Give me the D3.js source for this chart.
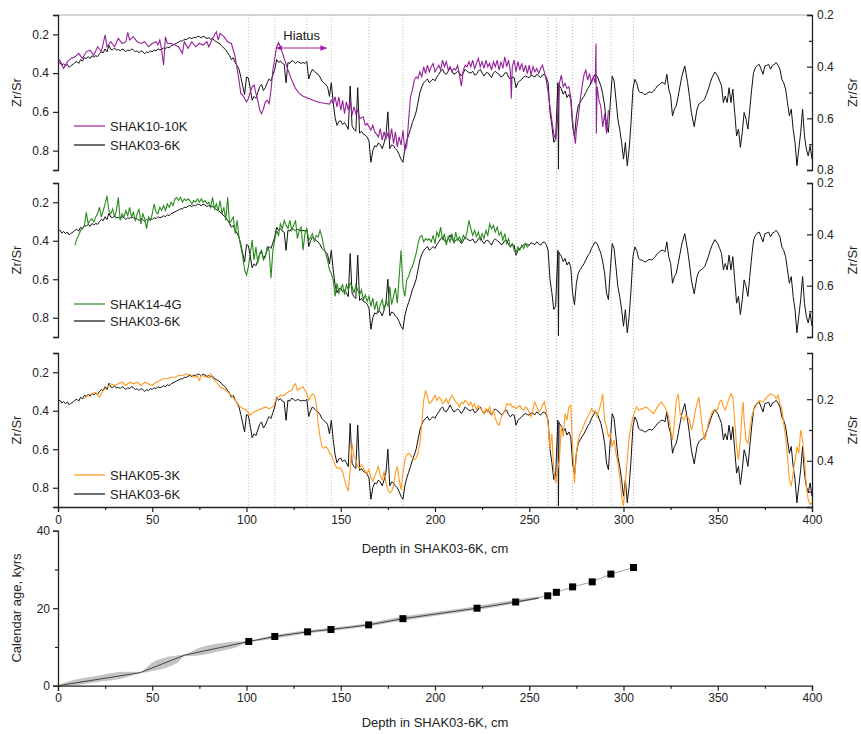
<!DOCTYPE html>
<html>
<head>
<meta charset="utf-8">
<script src="https://cdn.jsdelivr.net/npm/d3@7"></script>
<style>
body{margin:0;background:#fff;}
text{font-family:Arial,"Liberation Sans",sans-serif;fill:#222;}
</style>
</head>
<body>
<div id="chart"></div>
<script>
// reference core SHAK03-6K, [depth cm, Zr/Sr]
var shak03 = [[0,.351],[1,.345],[2,.36],[3,.352],[4,.363],[5,.355],[6,.37],[7,.36],[8,.355],[9,.345],[10,.34],[11,.35],[12,.33],[13,.338],[14,.32],[15,.325],[16,.315],[17,.325],[18,.31],[19,.318],[20,.31],[21,.315],[22,.30],[23,.29],[24,.295],[25,.275],[26,.29],[27,.257],[28,.277],[29,.28],[30,.27],[31,.282],[32,.278],[33,.285],[34,.275],[35,.28],[36,.29],[37,.28],[38,.285],[39,.275],[40,.28],[41,.29],[42,.285],[43,.295],[44,.285],[45,.29],[46,.30],[47,.29],[48,.295],[49,.285],[50,.29],[51,.28],[52,.285],[53,.275],[54,.28],[55,.277],[56,.27],[57,.275],[58,.265],[59,.27],[60,.26],[61,.255],[62,.25],[63,.245],[64,.24],[65,.234],[66,.235],[67,.225],[68,.228],[69,.22],[70,.217],[71,.222],[72,.215],[73,.218],[74,.21],[75,.212],[76,.218],[77,.21],[78,.215],[79,.222],[80,.217],[81,.225],[82,.22],[83,.232],[84,.238],[85,.243],[86,.25],[87,.262],[88,.27],[89,.28],[90,.295],[91,.31],[92,.33],[93,.32],[94,.346],[95,.36],[96,.38],[97,.42],[98,.466],[99,.51],[100,.42],[101,.425],[102,.48],[103,.54],[104,.52],[105,.53],[106,.50],[107,.47],[108,.458],[109,.49],[110,.475],[111,.45],[112,.43],[113,.44],[114,.41],[115,.38],[116,.33],[117,.345],[118,.337],[119,.35],[120,.355],[121,.45],[122,.345],[123,.35],[124,.335],[125,.34],[126,.35],[127,.34],[128,.345],[129,.35],[130,.345],[131,.35],[132,.34],[133,.43],[134,.40],[135,.38],[136,.39],[137,.40],[138,.406],[139,.42],[140,.44],[141,.45],[142,.458],[143,.47],[144,.52],[145,.45],[146,.55],[147,.63],[148,.67],[149,.65],[150,.646],[151,.665],[152,.655],[153,.67],[154,.69],[155,.466],[156,.672],[157,.69],[158,.70],[159,.475],[160,.71],[161,.70],[162,.715],[163,.72],[164,.73],[165,.75],[166,.86],[167,.80],[168,.775],[169,.78],[170,.76],[171,.77],[172,.79],[173,.76],[174,.72],[175,.60],[176,.79],[177,.77],[178,.775],[179,.79],[180,.80],[181,.82],[182,.845],[183,.86],[184,.79],[185,.75],[186,.72],[187,.69],[188,.655],[189,.63],[190,.60],[191,.55],[192,.50],[193,.47],[194,.45],[195,.44],[196,.43],[197,.45],[198,.44],[199,.43],[200,.44],[201,.42],[202,.406],[203,.39],[204,.38],[205,.40],[206,.406],[207,.39],[208,.37],[209,.39],[210,.406],[211,.40],[212,.39],[213,.40],[214,.415],[215,.40],[216,.38],[217,.39],[218,.397],[219,.40],[220,.39],[221,.41],[222,.406],[223,.39],[224,.38],[225,.40],[226,.415],[227,.40],[228,.397],[229,.41],[230,.423],[231,.40],[232,.39],[233,.40],[234,.406],[235,.42],[236,.415],[237,.40],[238,.397],[239,.42],[240,.432],[241,.42],[242,.423],[243,.475],[244,.449],[245,.44],[246,.432],[247,.42],[248,.415],[249,.42],[250,.423],[251,.41],[252,.415],[253,.42],[254,.406],[255,.415],[256,.423],[257,.41],[258,.406],[259,.42],[260,.449],[261,.60],[262,.67],[263,.757],[264,.741],[264.6,.59],[265.2,.449],[265.5,.895],[265.8,.46],[266,.466],[267,.48],[268,.509],[269,.492],[270,.526],[271,.51],[272,.535],[273,.672],[274,.732],[275,.621],[276,.569],[277,.55],[278,.535],[279,.52],[280,.50],[281,.48],[282,.466],[283,.44],[284,.423],[285,.406],[286,.415],[287,.44],[288,.466],[289,.51],[290,.569],[291,.672],[292,.706],[293,.552],[294,.415],[295,.44],[296,.535],[297,.638],[298,.689],[299,.758],[300,.844],[301,.758],[302,.878],[303,.792],[304,.655],[305,.483],[306,.432],[307,.45],[308,.492],[309,.50],[310,.50],[311,.51],[312,.509],[313,.50],[314,.497],[315,.50],[316,.492],[317,.48],[318,.466],[319,.46],[320,.449],[321,.45],[322,.458],[323,.406],[324,.483],[325,.518],[326,.621],[327,.586],[328,.569],[329,.52],[330,.466],[331,.415],[332.5,.363],[334,.449],[335,.52],[336,.603],[337.5,.676],[339,.586],[340,.56],[341,.552],[342,.545],[343,.535],[344,.51],[345,.483],[346,.45],[347,.423],[348.5,.394],[350,.415],[351,.44],[352,.466],[353,.552],[354,.518],[355,.552],[356,.475],[357,.552],[358,.483],[359,.603],[360,.724],[361,.689],[362,.783],[363,.706],[364,.603],[365,.638],[366,.689],[367,.586],[368,.483],[369,.397],[370,.372],[371,.36],[372,.355],[373,.38],[374,.406],[375,.363],[376,.36],[377,.355],[378,.38],[379,.36],[380,.355],[381,.346],[382,.36],[383,.38],[384,.432],[385,.45],[386,.483],[387,.552],[388,.621],[389,.586],[390,.689],[391,.758],[392,.878],[393,.792],[394,.706],[395,.586],[396,.724],[397,.792],[398,.827],[399,.775],[400,.844]];

// SHAK10-10K
var shak10 = [[0,.341],[1,.333],[3,.376],[5,.341],[7,.324],[9,.316],[11,.298],[13,.324],[15,.29],[17,.281],[19,.307],[21,.264],[23,.29],[25,.203],[26,.264],[28,.238],[30,.264],[32,.221],[34,.247],[36,.238],[37,.19],[38,.229],[40,.212],[42,.238],[44,.247],[46,.238],[48,.264],[50,.247],[52,.238],[53,.255],[54,.229],[55,.281],[56,.359],[57,.212],[58,.247],[60,.247],[62,.255],[64,.264],[66,.298],[67,.238],[69,.272],[71,.238],[73,.264],[75,.247],[77,.255],[79,.238],[80,.264],[82,.221],[84,.186],[85,.229],[86,.195],[88,.212],[90,.238],[92,.247],[94,.316],[96,.436],[97,.505],[98,.514],[99,.531],[100,.548],[101,.531],[102,.497],[103,.471],[104,.462],[105,.505],[106,.54],[107,.591],[108,.609],[109,.583],[110,.548],[111,.54],[112,.557],[113,.488],[114,.384],[115,.324],[116,.264],[117,.243],[118,.264],[120,.324],[122,.384],[124,.436],[126,.479],[128,.505],[130,.519],[133,.531],[136,.543],[139,.552],[142,.557],[144,.56],[145,.54],[146,.557],[147,.522],[148,.574],[149,.522],[150,.591],[151,.54],[152,.609],[153,.548],[154,.591],[155,.54],[156,.617],[157,.574],[158,.609],[159,.591],[160,.634],[162,.626],[163,.669],[164,.66],[166,.695],[167,.669],[168,.703],[170,.729],[171,.686],[172,.746],[173,.703],[174,.738],[175,.712],[176,.746],[177,.686],[178,.764],[179,.703],[180,.781],[181,.729],[182,.772],[183,.695],[184,.798],[185,.781],[186,.643],[187,.522],[188,.488],[189,.436],[190,.419],[191,.428],[192,.393],[193,.419],[194,.367],[195,.402],[196,.359],[197,.393],[198,.367],[199,.35],[200,.393],[201,.376],[202,.359],[203,.384],[204,.333],[205,.367],[206,.341],[207,.384],[208,.367],[209,.393],[210,.376],[211,.384],[212,.359],[213,.41],[214,.467],[215,.384],[216,.359],[217,.367],[218,.341],[219,.367],[220,.333],[221,.376],[222,.35],[223,.324],[224,.367],[225,.341],[226,.376],[227,.333],[228,.367],[229,.35],[230,.384],[231,.341],[232,.367],[233,.333],[234,.384],[235,.341],[236,.376],[237,.316],[238,.367],[239,.333],[240,.393],[240.5,.531],[241,.367],[242,.333],[243,.393],[244,.341],[245,.384],[246,.35],[247,.393],[248,.359],[249,.402],[250,.359],[251,.41],[252,.367],[253,.393],[254,.376],[255,.402],[256,.376],[257,.359],[258,.393],[259,.436],[260,.497],[261,.574],[262,.643],[263,.712],[264,.746],[265,.643],[266,.453],[267,.41],[268,.471],[269,.453],[270,.479],[271,.471],[272,.522],[273,.643],[274,.729],[274.5,.764],[275,.695],[276,.626],[277,.54],[278,.471],[279,.41],[280,.384],[281,.436],[282,.402],[283,.453],[284,.419],[285,.453],[285.4,.247],[285.6,.712],[286,.471],[287,.54],[288,.574],[289,.678],[290,.609],[291,.712],[292,.591]];

// SHAK14-4G
var shak14 = [[9,.423],[10,.389],[11,.372],[12,.346],[13,.337],[14,.32],[15,.252],[16,.312],[17,.294],[18,.286],[19,.303],[20,.277],[21,.26],[22,.226],[23,.277],[24,.243],[25,.209],[26,.166],[27,.243],[28,.26],[29,.234],[30,.277],[31,.243],[32,.174],[33,.294],[34,.26],[35,.277],[36,.243],[37,.269],[38,.226],[39,.277],[40,.252],[41,.294],[42,.26],[43,.234],[44,.312],[45,.26],[46,.286],[47,.337],[48,.277],[49,.294],[50,.26],[51,.209],[52,.252],[53,.26],[54,.226],[55,.243],[56,.217],[57,.243],[58,.209],[59,.226],[60,.2],[61,.217],[62,.183],[63,.174],[64,.191],[65,.174],[66,.2],[67,.183],[68,.191],[69,.183],[70,.191],[71,.209],[72,.191],[73,.2],[74,.183],[75,.2],[76,.183],[77,.2],[78,.191],[79,.209],[80,.2],[81,.226],[82,.174],[83,.234],[84,.209],[85,.243],[86,.191],[87,.26],[88,.226],[89,.294],[90,.174],[91,.312],[92,.294],[93,.277],[94,.363],[95,.294],[96,.38],[97,.432],[98,.483],[99,.552],[100,.578],[101,.535],[102,.466],[103,.397],[104,.5],[105,.432],[106,.518],[107,.466],[108,.449],[109,.5],[110,.483],[111,.432],[112,.449],[113,.595],[114,.449],[115,.397],[116,.346],[117,.372],[118,.312],[119,.337],[120,.294],[121,.32],[122,.337],[123,.294],[124,.346],[125,.32],[126,.294],[127,.389],[128,.346],[129,.329],[130,.449],[131,.363],[132,.337],[133,.397],[134,.38],[135,.363],[136,.406],[137,.372],[138,.38],[139,.346],[140,.38],[141,.432],[142,.466],[143,.5],[144,.552],[145,.569],[146,.603],[147,.689],[148,.621],[149,.672],[150,.646],[151,.629],[152,.681],[153,.629],[154,.655],[155,.621],[156,.638],[157,.672],[158,.629],[159,.655],[160,.681],[161,.655],[162,.706],[163,.681],[164,.715],[165,.689],[166,.741],[167,.698],[168,.758],[169,.715],[170,.775],[171,.732],[172,.706],[173,.758],[174,.715],[175,.741],[176,.638],[177,.732],[178,.689],[179,.646],[180,.724],[181,.586],[182,.449],[183,.638],[184,.689],[185,.603],[186,.586],[187,.552],[188,.535],[189,.5],[190,.466],[191,.415],[192,.38],[193,.372],[194,.406],[195,.389],[196,.397],[197,.389],[198,.406],[199,.372],[200,.415],[201,.355],[202,.38],[203,.329],[204,.397],[205,.363],[206,.423],[207,.38],[208,.406],[209,.363],[210,.415],[211,.355],[212,.397],[213,.38],[214,.406],[215,.372],[216,.389],[217,.355],[218,.294],[219,.337],[220,.372],[221,.346],[222,.38],[223,.355],[224,.397],[225,.363],[226,.389],[227,.346],[228,.372],[229,.312],[230,.337],[231,.32],[232,.355],[233,.329],[234,.372],[235,.355],[236,.397],[237,.363],[238,.415],[239,.389],[240,.432],[241,.415],[242,.449],[243,.466],[244,.432],[245,.449],[246,.423],[247,.44],[248,.415],[249,.432],[250,.423]];

// SHAK05-3K
var shak05 = [[14,.337],[16,.32],[18,.312],[20,.303],[22,.329],[24,.294],[26,.277],[28,.26],[30,.269],[32,.26],[34,.252],[36,.269],[38,.252],[40,.26],[42,.252],[44,.269],[46,.252],[48,.26],[50,.269],[52,.252],[54,.243],[56,.234],[58,.234],[60,.226],[62,.226],[64,.217],[66,.217],[68,.209],[70,.212],[72,.226],[74,.222],[75,.243],[76,.217],[78,.222],[80,.229],[81,.209],[82,.229],[84,.252],[86,.277],[88,.286],[90,.303],[92,.32],[94,.346],[96,.372],[98,.389],[100,.397],[102,.423],[104,.406],[106,.397],[108,.389],[110,.38],[112,.389],[114,.38],[116,.337],[118,.32],[120,.32],[122,.303],[124,.294],[125,.269],[126,.26],[127,.294],[128,.286],[130,.277],[131,.294],[132,.312],[133,.346],[134,.329],[135,.312],[136,.32],[137,.363],[138,.466],[139,.535],[140,.586],[141,.595],[142,.586],[143,.595],[144,.621],[145,.629],[146,.655],[147,.681],[148,.698],[149,.698],[150,.698],[151,.715],[152,.758],[153,.792],[154,.818],[155,.706],[156,.569],[157,.638],[158,.655],[159,.689],[160,.698],[161,.681],[162,.698],[163,.715],[164,.724],[165,.706],[166,.749],[167,.766],[168,.741],[169,.715],[170,.689],[171,.741],[172,.758],[173,.715],[174,.775],[175,.81],[176,.827],[177,.818],[178,.792],[179,.724],[180,.689],[181,.758],[182,.81],[183,.724],[184,.655],[185,.629],[186,.621],[187,.629],[188,.646],[189,.655],[190,.646],[191,.621],[192,.569],[193,.466],[194,.346],[195,.294],[196,.329],[197,.363],[198,.355],[199,.337],[200,.32],[201,.346],[202,.329],[203,.337],[204,.363],[205,.355],[206,.337],[207,.363],[208,.337],[209,.32],[210,.337],[211,.355],[212,.363],[213,.38],[214,.355],[215,.363],[216,.346],[217,.355],[218,.372],[219,.355],[220,.38],[221,.363],[222,.397],[223,.372],[224,.389],[225,.397],[226,.415],[227,.389],[228,.406],[229,.38],[230,.423],[231,.397],[232,.44],[233,.466],[234,.475],[235,.44],[236,.415],[237,.406],[238,.363],[239,.372],[240,.363],[241,.38],[242,.38],[243,.389],[244,.38],[245,.372],[246,.389],[247,.397],[248,.38],[249,.389],[250,.406],[251,.432],[252,.389],[253,.355],[254,.38],[255,.406],[256,.397],[257,.372],[258,.355],[259,.397],[260,.466],[261,.603],[262,.518],[263,.706],[264,.775],[265,.706],[266,.655],[267,.483],[268,.535],[269,.415],[270,.449],[271,.38],[272,.372],[273,.586],[274,.775],[275,.621],[276,.552],[277,.518],[278,.5],[279,.475],[280,.449],[281,.432],[282,.415],[283,.389],[284,.406],[285,.397],[286,.432],[287,.397],[288,.363],[289,.312],[290,.449],[291,.483],[292,.535],[293,.518],[294,.586],[295,.552],[296,.621],[297,.672],[298,.741],[299,.844],[300,.895],[301,.775],[302,.655],[303,.535],[304,.483],[305,.432],[306,.406],[307,.38],[308,.397],[310,.389],[312,.38],[314,.397],[316,.415],[318,.38],[320,.355],[322,.38],[324,.432],[325,.5],[326,.552],[327,.466],[328,.346],[329,.312],[330,.415],[332,.449],[333,.423],[334,.432],[335,.449],[336,.5],[337,.466],[338,.406],[339,.363],[340,.329],[341,.415],[342,.5],[343,.552],[344,.518],[345,.466],[346,.432],[347,.406],[348,.397],[349,.406],[350,.389],[351,.355],[352,.346],[353,.38],[354,.397],[355,.363],[356,.337],[357,.312],[358,.329],[359,.449],[360,.586],[361,.655],[362,.552],[363,.397],[363.5,.355],[364,.449],[365,.552],[366,.569],[367,.5],[368,.432],[369,.397],[370,.38],[372,.346],[374,.355],[376,.329],[378,.312],[380,.32],[381,.337],[382,.32],[383,.363],[384,.389],[385,.466],[386,.535],[387,.638],[388,.758],[389,.792],[390,.724],[391,.655],[392,.586],[393,.621],[394,.5],[395,.552],[396,.655],[397,.792],[398,.861],[399,.887],[400,.878]];

// tie points (depth) shared by all cores
var tieDepths = [101, 115, 132, 145, 165, 183, 243, 260, 264.5, 273, 283.5, 293.5, 305.3];

// age model
var datedDepth = [101.2, 115, 132.4, 144.8, 164.8, 183, 222.3, 242.8, 259.8, 264.4, 273, 283.4, 293.3, 305.3];
var datedAge = [11.4, 12.7, 13.9, 14.5, 15.7, 17.3, 20.0, 21.6, 23.2, 24.1, 25.5, 26.8, 28.8, 30.5];
var modelDepth = [0, 43.4, 67.3, 101.2, 115, 132.4, 144.8, 164.8, 183, 222.3, 242.8, 255];
var modelAge = [0, 3.35, 7.9, 11.4, 12.7, 13.9, 14.5, 15.7, 17.3, 20.0, 21.6, 22.6];
var bandDepth = [0, 5, 20, 35, 43.4, 50, 57, 63, 67.3, 75, 85, 95, 101.2, 110, 120, 140, 160, 180, 200, 220, 240, 255];
var bandLow =  [0, 0.0, 0.9, 2.0, 3.2, 3.8, 4.6, 5.8, 7.6, 7.8, 8.8, 10.0, 11.2, 11.8, 12.6, 13.9, 15.0, 16.6, 18.0, 19.4, 21.0, 22.4];
var bandHigh = [0, 1.0, 2.5, 3.6, 3.6, 6.0, 7.3, 7.8, 8.1, 9.8, 10.9, 11.4, 11.6, 12.6, 13.5, 14.7, 15.8, 17.6, 19.0, 20.4, 22.0, 23.0];

var panels = [
    {top:15,  bottom:170, data:shak10, color:'#96209a', name:'SHAK10-10K', right:[0.2,0.8], rTicks:[0.2,0.3,0.4,0.5,0.6,0.7,0.8], rLab:[0.2,0.4,0.6,0.8], leg:[126,145]},
    {top:183, bottom:337, data:shak14, color:'#2a8a1e', name:'SHAK14-4G',  right:[0.2,0.8], rTicks:[0.2,0.3,0.4,0.5,0.6,0.7,0.8], rLab:[0.2,0.4,0.6,0.8], leg:[304,321]},
    {top:353, bottom:507, data:shak05, color:'#ff9a1e', name:'SHAK05-3K',  right:[0.05,0.55], rTicks:[0.1,0.2,0.3,0.4,0.5], rLab:[0.2,0.4], leg:[475,494]}
];

var width = 861, height = 734;
var svg = d3.select('#chart').append('svg')
    .attr('width', width)
    .attr('height', height);

var x = d3.scaleLinear().domain([0, 400]).range([58, 812]);
var fmt = d3.format('.1f');

// dotted tie lines through the three Zr/Sr panels
svg.append('g').selectAll('line')
    .data(tieDepths)
    .enter().append('line')
    .attr('x1', function(d){ return x(d); })
    .attr('x2', function(d){ return x(d); })
    .attr('y1', 15)
    .attr('y2', 507)
    .attr('stroke', '#aaa')
    .attr('stroke-width', 0.8)
    .attr('stroke-dasharray', '1,2');

// top frame line
svg.append('line')
    .attr('x1', 58).attr('x2', 812)
    .attr('y1', 15).attr('y2', 15)
    .attr('stroke', '#aaa');

function styleAxis(g){
    g.select('.domain').attr('stroke', '#222').attr('stroke-width', 1.3);
    g.selectAll('.tick line').attr('stroke', '#222').attr('stroke-width', 1.2);
    g.selectAll('text').style('font-size', '12px').style('font-family', 'Arial, "Liberation Sans", sans-serif').attr('fill', '#222');
}

panels.forEach(function(p, i){
    var y = d3.scaleLinear().domain([0.1, 0.9]).range([p.top, p.bottom]);
    var yr = d3.scaleLinear().domain(p.right).range([p.top, p.bottom]);

    svg.append('clipPath').attr('id', 'clip'+i)
        .append('rect')
        .attr('x', 58).attr('y', p.top)
        .attr('width', 754).attr('height', p.bottom - p.top);

    var line = d3.line()
        .x(function(d){ return x(d[0]); })
        .y(function(d){ return y(d[1]); });

    var plot = svg.append('g').attr('clip-path', 'url(#clip'+i+')');
    plot.append('path')
        .datum(shak03)
        .attr('d', line)
        .attr('fill', 'none')
        .attr('stroke', '#111')
        .attr('stroke-width', 1);
    plot.append('path')
        .datum(p.data)
        .attr('d', line)
        .attr('fill', 'none')
        .attr('stroke', p.color)
        .attr('stroke-width', 1.1);

    // left axis
    var gl = svg.append('g').attr('transform', 'translate(58,0)')
        .call(d3.axisLeft(y)
            .tickValues([0.1,0.2,0.4,0.6,0.8,0.9])
            .tickFormat(function(d){ return (d == 0.1 || d == 0.9) ? '' : fmt(d); })
            .tickSizeOuter(0).tickSize(5).tickPadding(4));
    styleAxis(gl);
    gl.selectAll('.tick line').filter(function(d){ return d == 0.1 || d == 0.9; }).attr('x2', -4);

    // right axis, ticks inward
    var gr = svg.append('g').attr('transform', 'translate(812,0)')
        .call(d3.axisRight(yr)
            .tickValues(p.rTicks)
            .tickFormat(function(d){ return p.rLab.indexOf(d) >= 0 ? fmt(d) : ''; })
            .tickSizeOuter(0).tickSize(-5).tickPadding(5));
    styleAxis(gr);
    gr.selectAll('.tick line').filter(function(d){ return p.rLab.indexOf(d) < 0; }).attr('x2', -3);

    var mid = (p.top + p.bottom)/2;
    svg.append('text')
        .attr('transform', 'translate(21,'+mid+') rotate(-90)')
        .attr('text-anchor', 'middle')
        .style('font-size', '13px')
        .text('Zr/Sr');
    svg.append('text')
        .attr('transform', 'translate(857,'+mid+') rotate(-90)')
        .attr('text-anchor', 'middle')
        .style('font-size', '13px')
        .text('Zr/Sr');

    // legend
    var leg = [[p.name, p.color], ['SHAK03-6K', '#111']];
    leg.forEach(function(l, k){
        svg.append('line')
            .attr('x1', 74).attr('x2', 105)
            .attr('y1', p.leg[k]).attr('y2', p.leg[k])
            .attr('stroke', l[1]).attr('stroke-width', 1.2);
        svg.append('text')
            .attr('x', 110).attr('y', p.leg[k] + 5)
            .style('font-size', '13px')
            .text(l[0]);
    });

    if(i == 2){
        var gb = svg.append('g').attr('transform', 'translate(0,'+p.bottom+')')
            .call(d3.axisBottom(x)
                .tickValues(d3.range(0, 401, 25))
                .tickFormat(function(d){ return d % 50 ? '' : d; })
                .tickSizeOuter(0).tickSize(5).tickPadding(3));
        styleAxis(gb);
        gb.selectAll('.tick line').filter(function(d){ return d % 50; }).attr('y2', 3);
        svg.append('text')
            .attr('x', 435).attr('y', 553)
            .attr('text-anchor', 'middle')
            .style('font-size', '13px')
            .text('Depth in SHAK03-6K, cm');
    }
});

// hiatus marker
var hiatusY = 48;
var defs = svg.append('defs');
['start', 'end'].forEach(function(k){
    defs.append('marker')
        .attr('id', 'arr-'+k)
        .attr('viewBox', '0 0 10 10')
        .attr('refX', k == 'end' ? 9 : 1).attr('refY', 5)
        .attr('markerWidth', 7).attr('markerHeight', 7)
        .attr('orient', k == 'end' ? 'auto' : 'auto-start-reverse')
        .append('path')
        .attr('d', 'M0,1 L10,5 L0,9 z')
        .attr('fill', '#a020a8');
});
svg.append('line')
    .attr('x1', x(118.7)).attr('x2', x(142.5))
    .attr('y1', hiatusY).attr('y2', hiatusY)
    .attr('stroke', '#a020a8').attr('stroke-width', 1)
    .attr('marker-start', 'url(#arr-start)')
    .attr('marker-end', 'url(#arr-end)');
svg.append('text')
    .attr('x', x(119.5)).attr('y', 40)
    .style('font-size', '13px')
    .text('Hiatus');

// age-depth panel
var ya = d3.scaleLinear().domain([0, 40]).range([685.7, 530.7]);

var band = d3.area()
    .x(function(d){ return x(d); })
    .y0(function(d, i){ return ya(bandLow[i]); })
    .y1(function(d, i){ return ya(bandHigh[i]); })
    .curve(d3.curveMonotoneX);
svg.append('path')
    .datum(bandDepth)
    .attr('d', band)
    .attr('fill', '#c4c4c4')
    .attr('stroke', 'none');

var ageLine = d3.line()
    .x(function(d){ return x(d); });
svg.append('path')
    .datum(datedDepth.slice(7))
    .attr('d', ageLine.y(function(d, i){ return ya(datedAge[i+7]); }))
    .attr('fill', 'none')
    .attr('stroke', '#999')
    .attr('stroke-width', 0.9);
svg.append('path')
    .datum(modelDepth)
    .attr('d', ageLine.y(function(d, i){ return ya(modelAge[i]); }))
    .attr('fill', 'none')
    .attr('stroke', '#444')
    .attr('stroke-width', 1);

svg.append('g').selectAll('rect')
    .data(datedDepth)
    .enter().append('rect')
    .attr('x', function(d){ return x(d) - 3.5; })
    .attr('y', function(d, i){ return ya(datedAge[i]) - 3.5; })
    .attr('width', 7).attr('height', 7)
    .attr('fill', '#000');

var ga = svg.append('g').attr('transform', 'translate(58,0)')
    .call(d3.axisLeft(ya)
        .tickValues([0, 10, 20, 30, 40])
        .tickFormat(function(d){ return d % 20 ? '' : d; })
        .tickSizeOuter(0).tickSize(5).tickPadding(3));
styleAxis(ga);
ga.selectAll('.tick line').filter(function(d){ return d % 20; }).attr('x2', -3);

var gx = svg.append('g').attr('transform', 'translate(0,685.7)')
    .call(d3.axisBottom(x)
        .tickValues(d3.range(0, 401, 25))
        .tickFormat(function(d){ return d % 50 ? '' : d; })
        .tickSizeOuter(0).tickSize(5).tickPadding(3));
styleAxis(gx);
gx.selectAll('.tick line').filter(function(d){ return d % 50; }).attr('y2', 3);

svg.append('text')
    .attr('x', 435).attr('y', 727)
    .attr('text-anchor', 'middle')
    .style('font-size', '13px')
    .text('Depth in SHAK03-6K, cm');
svg.append('text')
    .attr('transform', 'translate(21,608) rotate(-90)')
    .attr('text-anchor', 'middle')
    .style('font-size', '13px')
    .text('Calendar age, kyrs');
</script>
</body>
</html>
